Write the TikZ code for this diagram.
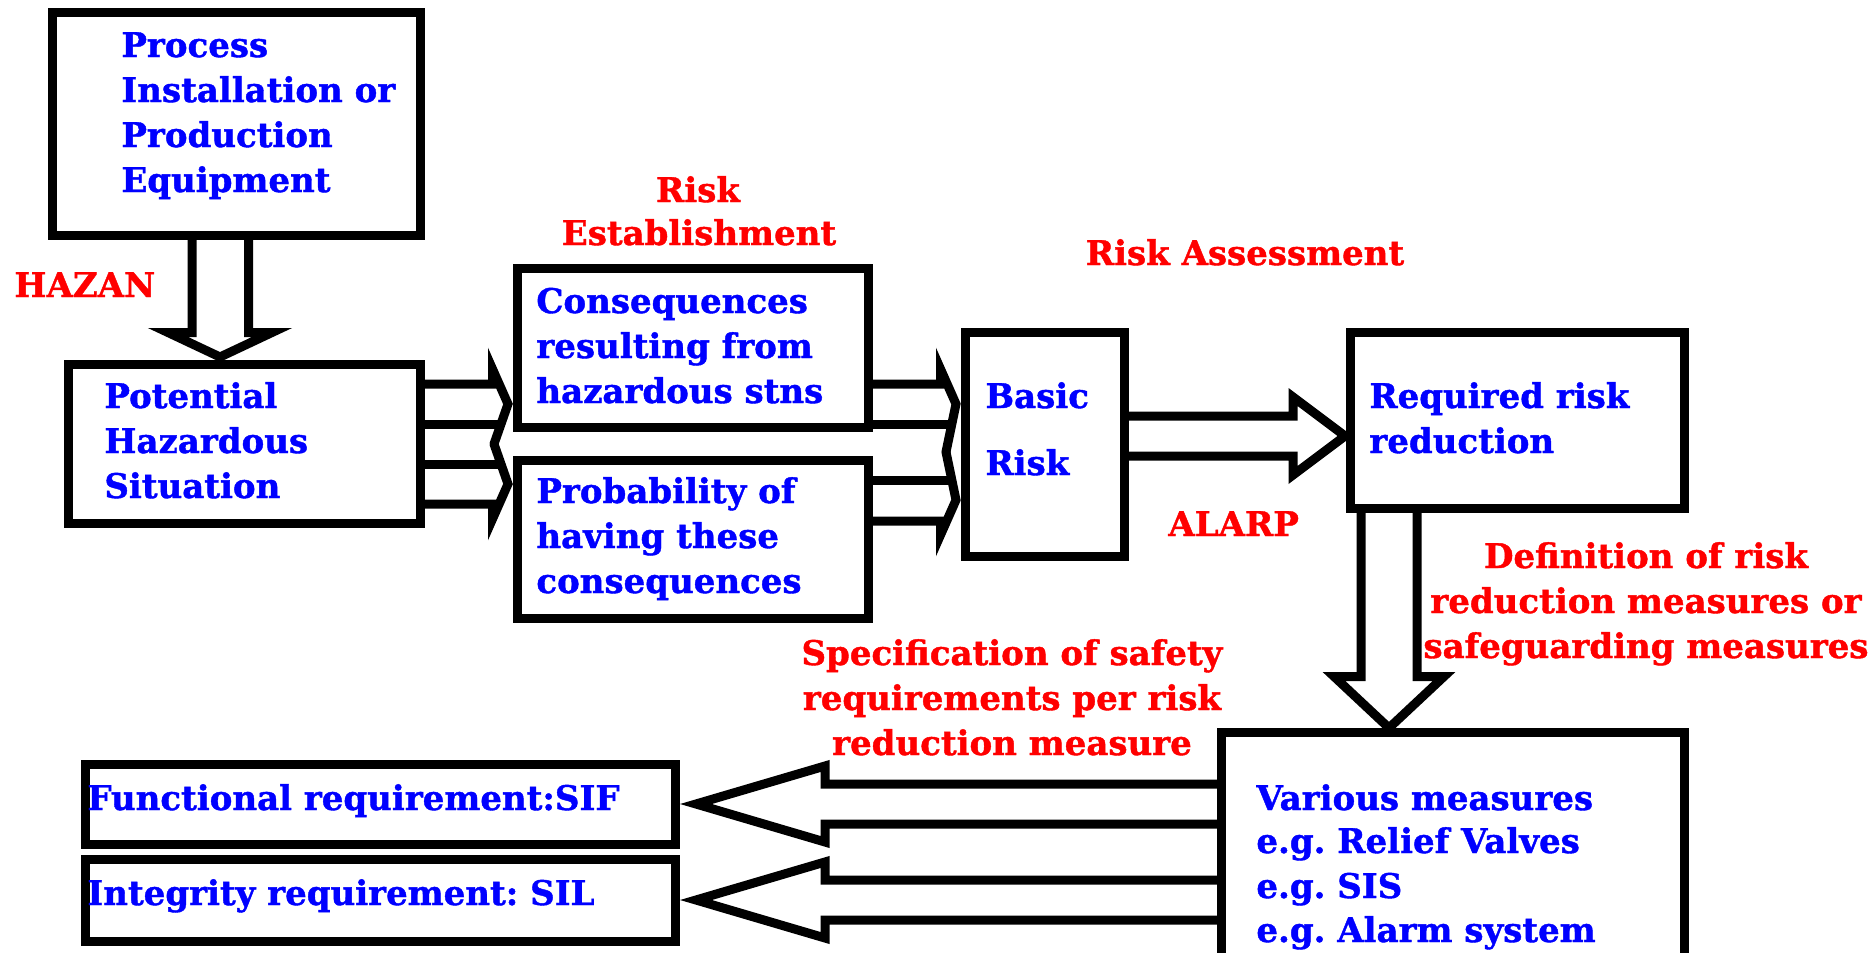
\documentclass[tikz,border=0pt]{standalone}
\usepackage{fontspec}
\setmainfont{DejaVu Serif}[BoldFeatures={FakeBold=1.2}]
\usetikzlibrary{calc}
\pgfdeclarelayer{bg}
\pgfsetlayers{bg,main}
\definecolor{tblue}{RGB}{0,0,255}
\definecolor{tred}{RGB}{255,0,0}
\frenchspacing
\tikzset{
  box/.style={draw=black, fill=white, line width=4.5pt, rectangle, inner sep=0pt, outer sep=0pt},
  bt/.style={anchor=base west, inner sep=0pt, text=tblue, font=\fontsize{17pt}{20pt}\selectfont\bfseries},
  rt/.style={anchor=base, inner sep=0pt, text=tred, font=\fontsize{17pt}{20pt}\selectfont\bfseries},
  blk/.style={draw=black, line width=4.5pt, line join=miter, line cap=butt},
  blkr/.style={blk, line cap=round},
}
\begin{document}
\begin{tikzpicture}[x=0.5pt,y=-0.5pt]
\useasboundingbox (0,0) rectangle (1870,953);
% boxes
\node[box, minimum width=184pt, minimum height=111.5pt] (proc) at (236,123.5) {};
\node[box, minimum width=176pt, minimum height=79.5pt] (pot) at (244,443.5) {};
\node[box, minimum width=175.5pt, minimum height=79.5pt] (cons) at (693,347.5) {};
\node[box, minimum width=175.5pt, minimum height=79pt] (prob) at (693,539) {};
\node[box, minimum width=79.5pt, minimum height=112pt] (basic) at (1044.5,444) {};
\node[box, minimum width=167pt, minimum height=88pt] (req) at (1517,420) {};
\node[box, minimum width=231.5pt, minimum height=115pt] (var) at (1452.5,847) {};
\node[box, minimum width=295pt, minimum height=40pt] (func) at (380,804) {};
\node[box, minimum width=295pt, minimum height=41pt] (integ) at (380,900) {};
% block arrows
\begin{pgfonlayer}{bg}
\draw[blk] (proc.south -| 192,0) -- (192,332.5) -- (168,332.5) -- (220,357) -- (272,332.5) -- (248.5,332.5) -- (proc.south -| 248.5,0);
\draw[blkr] (pot.east |- 0,384) -- (492.5,384) -- (492.5,369) -- (508,404) -- (494,444);
\draw[blkr] (494,444) -- (508,484) -- (492.5,519) -- (492.5,504) -- (pot.east |- 0,504);
\draw[blk] (pot.east |- 0,424) -- (501,424);
\draw[blk] (pot.east |- 0,464) -- (501,464);
\draw[blkr] (cons.east |- 0,384) -- (940.5,384) -- (940.5,369) -- (956,404) -- (946,452);
\draw[blkr] (946,452) -- (956,500) -- (940.5,535) -- (940.5,521) -- (prob.east |- 0,521);
\draw[blk] (cons.east |- 0,424) -- (952,424);
\draw[blk] (prob.east |- 0,480) -- (952,480);
\draw[blk] (basic.east |- 0,416) -- (1293,416) -- (1293,397) -- (1345,436) -- (1293,475) -- (1293,456) -- (basic.east |- 0,456);
\draw[blk] (req.south -| 1361,0) -- (1361,676.5) -- (1334,676.5) -- (1389,728) -- (1444,676.5) -- (1417,676.5) -- (req.south -| 1417,0);
\draw[blk] (var.west |- 0,784) -- (825,784) -- (825,766) -- (696,804) -- (825,842) -- (825,824) -- (var.west |- 0,824);
\draw[blk] (var.west |- 0,880) -- (825,880) -- (825,862) -- (696,900) -- (825,938) -- (825,920) -- (var.west |- 0,920);
\end{pgfonlayer}
% blue texts
\node[bt] (proc1) at (121,57) {Process};
\node[bt] (proc2) at (121,102) {Installation or};
\node[bt] (proc3) at (121,147) {Production};
\node[bt] (proc4) at (121,192) {Equipment};
\node[bt] (pot1) at (104,408) {Potential};
\node[bt] (pot2) at (104,453) {Hazardous};
\node[bt] (pot3) at (104,498) {Situation};
\node[bt] (cons1) at (536,313) {Consequences};
\node[bt] (cons2) at (536,358) {resulting from};
\node[bt] (cons3) at (536,403) {hazardous stns};
\node[bt] (prob1) at (536,503) {Probability of};
\node[bt] (prob2) at (536,548) {having these};
\node[bt] (prob3) at (536,593) {consequences};
\node[bt] (basic1) at (985,408) {Basic};
\node[bt] (basic2) at (985,475) {Risk};
\node[bt] (req1) at (1369,408) {Required risk};
\node[bt] (req2) at (1369,453) {reduction};
\node[bt] (var1) at (1256,810) {Various measures};
\node[bt] (var2) at (1256,853) {e.g. Relief Valves};
\node[bt] (var3) at (1256,898) {e.g. SIS};
\node[bt] (var4) at (1256,942) {e.g. Alarm system};
\node[bt] (func1) at (87,810) {Functional requirement:SIF};
\node[bt] (integ1) at (87,905) {Integrity requirement: SIL};
% red labels
\node[rt, anchor=base west] (hazan) at (14,297) {HAZAN};
\node[rt] (re1) at (698,202) {Risk};
\node[rt] (re2) at (699,245) {Establishment};
\node[rt] (ra) at (1245,265) {Risk Assessment};
\node[rt, anchor=base west] (alarp) at (1168,536) {ALARP};
\node[rt] (d1) at (1646,568) {Definition of risk};
\node[rt] (d2) at (1646,613) {reduction measures or};
\node[rt] (d3) at (1646,658) {safeguarding measures};
\node[rt] (s1) at (1012,665) {Specification of safety};
\node[rt] (s2) at (1012,710) {requirements per risk};
\node[rt] (s3) at (1012,755) {reduction measure};
\end{tikzpicture}
\end{document}
